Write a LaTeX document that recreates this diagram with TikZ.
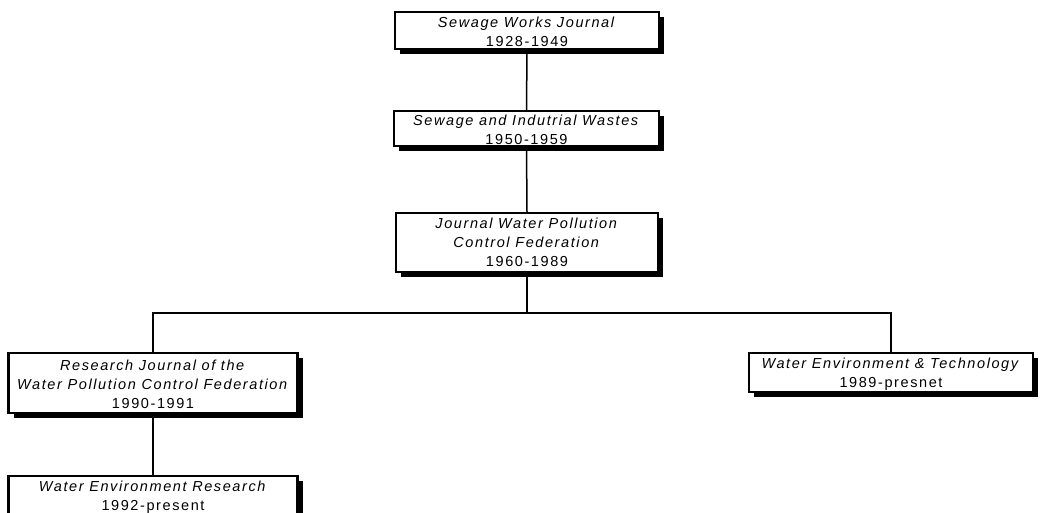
\documentclass[tikz,border=0pt]{standalone}
\usepackage{fontspec}
\setmainfont{Liberation Sans}[LetterSpace=11]
\usetikzlibrary{shadows}
\newcommand{\tstrut}{\rule{0pt}{13.5pt}}
\tikzset{
  box/.style={draw=black, line width=2.5pt, fill=white, inner sep=0pt,
    align=center, font=\fontsize{14.5}{19}\selectfont,
    drop shadow={shadow xshift=5pt, shadow yshift=-5pt, fill=black, opacity=1}},
  conn/.style={draw=black, line width=1.5pt}
}
\begin{document}
\begin{tikzpicture}[x=1pt,y=-1pt]
\useasboundingbox (0,0) rectangle (1042,512);
\clip (0,0) rectangle (1042,512);
\node[box, minimum width=264pt, minimum height=37pt] (b1) at (527,30.5)
  {\tstrut\textit{Sewage Works Journal}\\1928-1949};
\node[box, minimum width=265pt, minimum height=35pt] (b2) at (526.5,128.5)
  {\tstrut\textit{Sewage and Indutrial Wastes}\\1950-1959};
\node[box, minimum width=262pt, minimum height=59pt] (b3) at (527,242.5)
  {\textit{Journal Water Pollution}\\\textit{Control Federation}\\1960-1989};
\node[box, minimum width=289pt, minimum height=60pt] (b4) at (153,383)
  {\tstrut\textit{Research Journal of the}\\\textit{Water Pollution Control Federation}\\1990-1991};
\node[box, minimum width=284pt, minimum height=39pt] (b5) at (891,372.5)
  {\tstrut\textit{Water Environment \& Technology}\\1989-presnet};
\node[box, minimum width=289pt, minimum height=39pt] (b6) at (153,495.5)
  {\tstrut\textit{Water Environment Research}\\1992-present};
\coordinate (j) at (527,313);
\draw[conn] (b1.south) -- (b2.north);
\draw[conn] (b2.south) -- (b3.north);
\draw[conn] (b3.south) -- (j);
\draw[conn] (b4.north) |- (j) -| (b5.north);
\draw[conn] (b4.south) -- (b6.north);
\end{tikzpicture}
\end{document}
